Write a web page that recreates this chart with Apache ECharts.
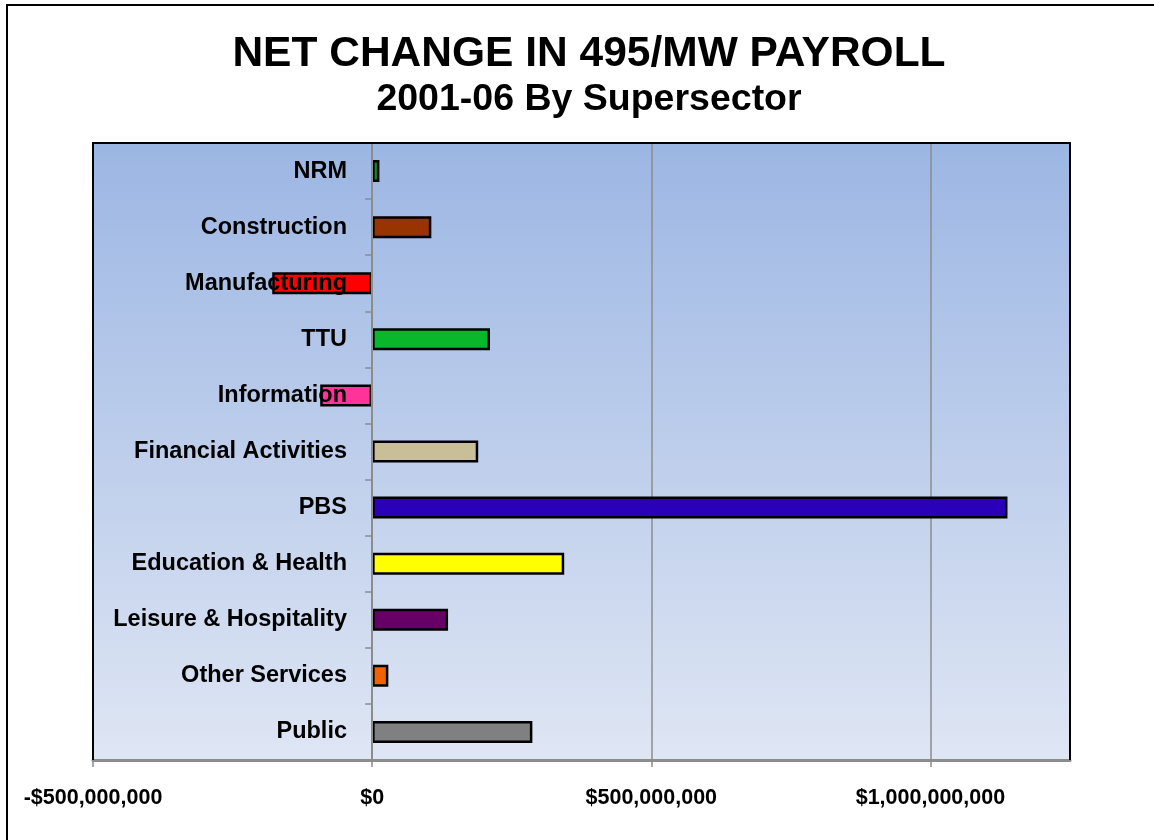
<!DOCTYPE html>
<html>
<head>
<meta charset="utf-8">
<script src="https://cdn.jsdelivr.net/npm/echarts@6/dist/echarts.min.js"></script>
<style>html,body{margin:0;padding:0;background:#fff;}#c{width:1154px;height:840px;}</style>
</head>
<body>
<div id="c"></div>
<script>
const categories = ['NRM','Construction','Manufacturing','TTU','Information','Financial Activities','PBS','Education & Health','Leisure & Hospitality','Other Services','Public'];
const values = [13e6, 106e6, -179e6, 211e6, -93e6, 190e6, 1138e6, 344e6, 136e6, 29e6, 287e6];
const barColors = ['#0E8A2A','#993300','#FF0000','#08B82A','#FF3399','#C8BF98','#2A00B8','#FFFF00','#660066','#F26205','#808080'];
const tickValues = [-500e6, 0, 500e6, 1000e6];

function money(v){
  const s = Math.abs(v).toString().replace(/\B(?=(\d{3})+(?!\d))/g, ',');
  return (v < 0 ? '-$' : '$') + s;
}

const chart = echarts.init(document.getElementById('c'));
const F = '"Liberation Sans", Arial, sans-serif';
chart.setOption({
  animation: false,
  backgroundColor: '#ffffff',
  title: [
    {text: 'NET CHANGE IN 495/MW PAYROLL', left: 584, top: 28, textAlign: 'center',
     textStyle: {fontFamily: F, fontWeight: 'bold', fontSize: 42.5, color: '#000'}},
    {text: '2001-06 By Supersector', left: 584, top: 76, textAlign: 'center',
     textStyle: {fontFamily: F, fontWeight: 'bold', fontSize: 37.5, color: '#000'}}
  ],
  grid: {
    left: 93, right: 84, top: 143, bottom: 80, show: true, borderWidth: 0,
    containLabel: false, outerBoundsMode: 'none',
    backgroundColor: new echarts.graphic.LinearGradient(0, 0, 0, 1, [
      {offset: 0, color: '#9CB6E3'}, {offset: 1, color: '#DFE6F4'}
    ])
  },
  xAxis: {
    type: 'value', min: -500e6, max: 1250e6, interval: 500e6,
    axisLine: {show: true, lineStyle: {color: '#8C8C8C', width: 3}},
    axisTick: {show: true, length: 7, customValues: tickValues, lineStyle: {color: '#8C8C8C', width: 1.5}},
    splitLine: {show: true, lineStyle: {color: '#8C8C8C', width: 1.5}},
    axisLabel: {customValues: tickValues, margin: 27, formatter: money,
      fontFamily: F, fontWeight: 'bold', fontSize: 21.5, color: '#000'}
  },
  yAxis: {
    type: 'category', data: categories, inverse: true, z: 5,
    axisLine: {show: true, onZero: true, lineStyle: {color: '#8C8C8C', width: 2}},
    axisTick: {show: true, length: 7, lineStyle: {color: '#8C8C8C', width: 1.5}},
    splitLine: {show: false},
    axisLabel: {margin: -254, fontFamily: F, fontWeight: 'bold', fontSize: 23.5, color: '#000'}
  },
  series: [{
    type: 'bar', barWidth: 22,
    data: values.map((v, i) => ({value: v, itemStyle: {color: barColors[i]}})),
    itemStyle: {borderColor: '#000', borderWidth: 2.5}
  }],
  graphic: [
    {type: 'rect', z: 0, silent: true, shape: {x: 7, y: 5, width: 1160, height: 850},
     style: {fill: null, stroke: '#000', lineWidth: 2}},
    {type: 'polyline', z: 100, silent: true, shape: {points: [[93, 760], [93, 143], [1070, 143], [1070, 760]]},
     style: {fill: null, stroke: '#000', lineWidth: 2}}
  ]
});
</script>
</body>
</html>
